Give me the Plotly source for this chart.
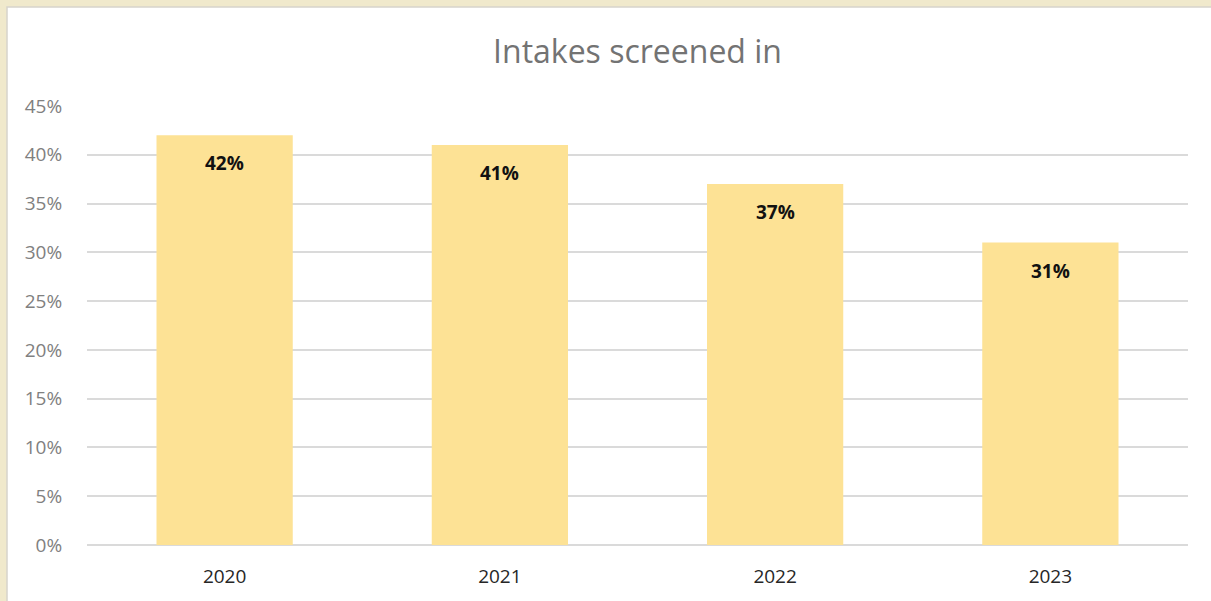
import plotly.graph_objects as go

# Share of intakes screened in, by year
years = ["2020", "2021", "2022", "2023"]
screened_in_pct = [42, 41, 37, 31]
y_tick_values = [0, 5, 10, 15, 20, 25, 30, 35, 40, 45]
y_tick_labels = [f"{v}%" for v in y_tick_values]

W, H = 1211, 601
ML, MR, MT, MB = 87, 23, 106, 56
PW, PH = W - ML - MR, H - MT - MB

font_family = "'Open Sans', Lato, sans-serif"

fig = go.Figure()
fig.add_trace(go.Bar(
    x=years,
    y=screened_in_pct,
    marker=dict(color="#FDE295", line=dict(width=0)),
    hoverinfo="skip",
))

# Value labels placed just under the top of each bar
# (x given as category index so numeric-looking names are not read as numbers)
for i, v in enumerate(screened_in_pct):
    fig.add_annotation(
        x=i, y=v, xref="x", yref="y",
        text=f"<b>{v}%</b>", showarrow=False,
        yanchor="middle", yshift=-28,
        font=dict(family=font_family, size=19, color="#111111"),
    )


def px_x(px):
    return (px - ML) / PW


def px_y(py):
    return (H - MB - py) / PH


# White card on the beige page
fig.add_shape(
    type="rect", xref="paper", yref="paper", layer="below",
    x0=px_x(7), x1=px_x(W + 10), y0=px_y(H + 10), y1=px_y(7),
    fillcolor="white", line=dict(color="#D6D3CC", width=1.5),
)

fig.update_layout(
    width=W, height=H,
    margin=dict(l=ML, r=MR, t=MT, b=MB),
    paper_bgcolor="#F0E9CC",
    plot_bgcolor="rgba(0,0,0,0)",
    bargap=0.505,
    showlegend=False,
    title=dict(
        text="Intakes screened in",
        x=0.5, xref="paper", xanchor="center",
        y=1 - 52 / H, yanchor="middle",
        font=dict(family=font_family, size=32, color="#737373"),
    ),
    xaxis=dict(
        type="category",
        categoryorder="array", categoryarray=years,
        range=[-0.5, len(years) - 0.5],
        showgrid=False, showline=False, zeroline=False,
        ticks="outside", ticklen=14, tickcolor="rgba(0,0,0,0)",
        tickfont=dict(family=font_family, size=19, color="#262626"),
    ),
    yaxis=dict(
        range=[0, 45],
        tickvals=y_tick_values, ticktext=y_tick_labels,
        showgrid=True, gridcolor="#DADADA", gridwidth=1.5,
        zeroline=True, zerolinecolor="#DADADA", zerolinewidth=1.5,
        showline=False, ticks="outside", ticklen=20, tickcolor="rgba(0,0,0,0)",
        tickfont=dict(family=font_family, size=19, color="#808080"),
    ),
)

fig.write_html("out.html")
